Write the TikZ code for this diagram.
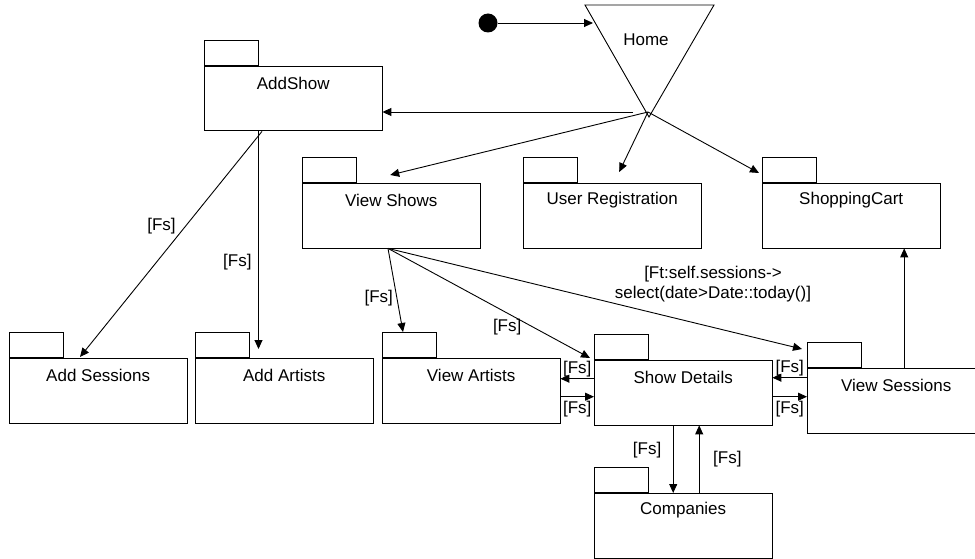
\documentclass[tikz,border=0pt]{standalone}
\usepackage{fontspec}
\setmainfont{Liberation Sans}
\usetikzlibrary{arrows.meta,calc}
\begin{document}
\begin{tikzpicture}[x=1pt,y=-1pt,font=\fontsize{17pt}{20pt}\selectfont,
pkg/.style={draw, line width=0.9pt, minimum width=177.5pt, minimum height=64.5pt, anchor=north west, inner sep=0pt},
tab/.style={draw, line width=0.9pt, minimum width=54pt, minimum height=25pt, anchor=south west, inner sep=0pt},
pkgtext/.style={anchor=center, yshift=-17pt},
arr/.style={line width=0.9pt, -{Triangle[length=9pt,width=8pt]}},
lbl/.style={inner sep=1.5pt}]
\useasboundingbox (0,0) rectangle (975,559);
\clip (0,0) rectangle (975,559);
\node[circle, fill, inner sep=0pt, minimum size=19pt] (start) at (488,23){};
\coordinate (hometl) at (585,5);
\coordinate (hometr) at (714,5);
\coordinate (homebt) at (649,117);
\draw[line width=0.9pt] (hometl) -- (hometr) -- (homebt) -- cycle;
\node (home) at (646,40){Home};
\coordinate (homein) at (593,23);
\coordinate (hub) at (648,112);
\draw[arr] (start) -- (homein);
\node[pkg, label={[pkgtext]north:AddShow}] (addshow) at (204,66){};
\node[tab] (addshowtab) at (addshow.north west){};
\node[pkg, label={[pkgtext]north:View Shows}] (viewshows) at (302,183){};
\node[tab] (viewshowstab) at (viewshows.north west){};
\node[pkg, label={[pkgtext]north:User Registration}] (userreg) at (523,183){};
\node[tab] (userregtab) at (userreg.north west){};
\node[pkg, label={[pkgtext]north:ShoppingCart}] (shoppingcart) at (762,183){};
\node[tab] (shoppingcarttab) at (shoppingcart.north west){};
\node[pkg, label={[pkgtext]north:Add Sessions}] (addsessions) at (9,358){};
\node[tab] (addsessionstab) at (addsessions.north west){};
\node[pkg, label={[pkgtext]north:Add Artists}] (addartists) at (195,358){};
\node[tab] (addartiststab) at (addartists.north west){};
\node[pkg, label={[pkgtext]north:View Artists}] (viewartists) at (382,358){};
\node[tab] (viewartiststab) at (viewartists.north west){};
\node[pkg, label={[pkgtext]north:Show Details}] (showdetails) at (594,360){};
\node[tab] (showdetailstab) at (showdetails.north west){};
\node[pkg, label={[pkgtext]north:View Sessions}] (viewsessions) at (807,368){};
\node[tab] (viewsessionstab) at (viewsessions.north west){};
\node[pkg, label={[pkgtext]north:Companies}] (companies) at (594,493){};
\node[tab] (companiestab) at (companies.north west){};
\draw[arr] ($(hub)+(-15,0)$) -- (hub -| addshow.east);
\draw[arr] (hub) -- ($(viewshows.north)+(-1,-8)$);
\draw[arr] (hub) -- ($(userreg.north)+(7,-11)$);
\draw[arr] (hub) -- ($(shoppingcart.north west)+(-3,-10)$);
\coordinate (as1) at ($(addshow.south west)+(58,0)$);
\coordinate (as2) at ($(addshow.south west)+(54.5,0)$);
\draw[arr] (as1) -- ($(addsessions.north west)+(71,-1)$) node[lbl, pos=0.42, left=8pt]{[Fs]};
\draw[arr] (as2) -- ($(as2 |- addartists.north)+(0,-9)$) node[lbl, pos=0.6, left=5pt]{[Fs]};
\coordinate (vs) at ($(viewshows.south west)+(86,0)$);
\draw[arr] (vs) -- ($(viewartists.north west)+(21,-26)$) node[lbl, pos=0.59, left=2pt]{[Fs]};
\draw[arr] (vs) -- ($(showdetails.north west)+(-4,-2)$) node[lbl, pos=0.59, below=4pt]{[Fs]};
\draw[arr] (vs) -- ($(viewsessions.north west)+(-5,-19)$) node[lbl, pos=0.785, above=23pt, align=center]{[Ft:self.sessions->\\select(date>Date::today()]};
\coordinate (sdw1) at ($(showdetails.west)+(0,-14)$);
\coordinate (sdw2) at ($(showdetails.west)+(0,4)$);
\coordinate (sde1) at ($(showdetails.east)+(0,-15)$);
\coordinate (sde2) at ($(showdetails.east)+(0,4)$);
\draw[arr] (sdw1) -- (sdw1 -| viewartists.east) node[lbl, midway, above]{[Fs]};
\draw[arr] (sdw2 -| viewartists.east) -- (sdw2) node[lbl, midway, below=3pt]{[Fs]};
\draw[arr] (sde1 -| viewsessions.west) -- (sde1) node[lbl, midway, above]{[Fs]};
\draw[arr] (sde2) -- (sde2 -| viewsessions.west) node[lbl, midway, below=3pt]{[Fs]};
\coordinate (sds1) at ($(showdetails.south)+(-10,0)$);
\coordinate (sds2) at ($(showdetails.south)+(16,0)$);
\draw[arr] (sds1) -- (sds1 |- companies.north) node[lbl, pos=0.36, left=10pt]{[Fs]};
\draw[arr] (sds2 |- companies.north) -- (sds2) node[lbl, midway, right=12pt]{[Fs]};
\coordinate (vsn) at ($(viewsessions.north)+(8,0)$);
\draw[arr] (vsn) -- (vsn |- shoppingcart.south);
\end{tikzpicture}
\end{document}
